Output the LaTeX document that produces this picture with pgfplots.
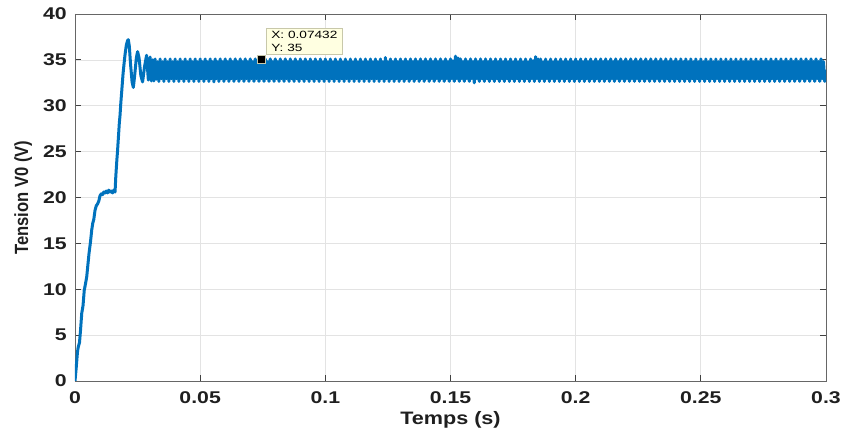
\documentclass[border=0pt]{standalone}
\usepackage{pgfplots}
\pgfplotsset{compat=1.18}
\usepackage{fontspec}
\setmainfont{Liberation Sans}
\newfontfamily\tickfont[FakeStretch=1.25]{Liberation Sans}
\newfontfamily\labfont[FakeStretch=1.2]{Liberation Sans}
\newfontfamily\tipfont[FakeStretch=1.3]{Liberation Sans}
\definecolor{vblue}{RGB}{0,114,189}
\definecolor{tipbg}{RGB}{255,255,225}
\definecolor{tipedge}{RGB}{200,200,170}

\begin{document}
\begin{tikzpicture}
\path[use as bounding box] (-75bp,-51bp) rectangle (766bp,381bp);
\begin{axis}[
  at={(0,0)}, anchor=south west,
  scale only axis, width=751bp, height=367bp,
  xmin=0, xmax=0.3, ymin=0, ymax=40,
  xtick={0,0.05,0.1,0.15,0.2,0.25,0.3},
  xticklabels={0,0.05,0.1,0.15,0.2,0.25,0.3},
  ytick={0,5,10,15,20,25,30,35,40},
  yticklabels={0,5,10,15,20,25,30,35,40},
  /pgf/number format/assume math mode=true,
  grid=major,
  major grid style={draw=black!11, line width=0.7bp},
  tick align=inside, major tick length=6bp,
  tick style={draw=black!75, line width=0.8bp},
  axis line style={draw=black!60, line width=0.9bp},
  ticklabel style={font=\tickfont\bfseries\fontsize{17bp}{18bp}\selectfont, text=black!88},
  xticklabel style={anchor=base, yshift=-22bp},
  yticklabel style={anchor=east, inner sep=0pt, xshift=-8bp},
  xlabel={Temps (s)},
  xlabel style={at={(axis description cs:0.5,0)}, anchor=base, yshift=-43bp,
    font=\labfont\bfseries\fontsize{18bp}{20bp}\selectfont, text=black!88},
  ylabel={\scalebox{1}[1.15]{Tension V0 (V)}},
  ylabel style={at={(axis description cs:-0.06258,0.5)}, anchor=base,
    font=\bfseries\fontsize{16.6bp}{18bp}\selectfont, text=black!88},
]
% output voltage: start-up transient
\addplot[vblue, line width=3bp, line join=round, line cap=round] coordinates {
(0,0)(0.0005,1.5)(0.0010,3.2)(0.0013,3.7)(0.0018,4.2)(0.0022,5.5)(0.0027,7.4)(0.0032,8.2)
(0.0037,9.9)(0.0042,10.6)(0.0047,11.4)(0.0052,12.8)(0.0056,13.9)(0.0062,15.2)(0.0067,16.5)
(0.0071,17.2)(0.0075,17.6)(0.0080,18.6)(0.0085,19.1)(0.0090,19.3)(0.0095,19.6)(0.0100,20.2)
(0.0105,20.4)(0.0110,20.3)(0.0115,20.6)(0.0120,20.5)(0.0125,20.7)(0.0130,20.5)(0.0135,20.8)
(0.0140,20.6)(0.0145,20.7)(0.0150,20.5)(0.0155,20.8)(0.0160,20.6)(0.0163,22.3)(0.0167,24.0)
(0.0170,25.1)(0.0174,26.8)(0.0177,28.1)(0.0180,29.0)(0.0183,30.3)(0.0187,31.7)(0.0192,33.5)
(0.0196,34.6)(0.0200,35.6)(0.0205,36.6)(0.0210,37.1)(0.0213,37.2)(0.0217,36.5)(0.0222,34.5)
(0.0228,32.6)(0.0233,32.0)(0.0238,33.2)(0.0245,35.2)(0.0250,35.9)(0.0256,35.2)(0.0263,33.3)
(0.0270,32.6)(0.0278,34.3)(0.0286,35.5)(0.0293,32.8)
% steady-state ripple
(0.0300,35.3)(0.0305,32.7)(0.0310,35.0)(0.0315,32.7)(0.0320,35.1)(0.0325,32.9)(0.0330,34.8)(0.0335,32.65)
(0.0340,35.1)(0.0345,32.95)(0.0350,34.8)(0.0355,32.65)(0.0360,35.1)(0.0365,32.95)(0.0370,34.8)(0.0375,32.65)
(0.0380,35.1)(0.0385,32.95)(0.0390,34.8)(0.0395,32.65)(0.0400,35.1)(0.0405,32.95)(0.0410,34.8)(0.0415,32.65)
(0.0420,35.1)(0.0425,32.95)(0.0430,34.8)(0.0435,32.65)(0.0440,35.1)(0.0445,32.95)(0.0450,34.8)(0.0455,32.65)
(0.0460,35.1)(0.0465,32.95)(0.0470,34.8)(0.0475,32.65)(0.0480,35.1)(0.0485,32.95)(0.0490,34.8)(0.0495,32.65)
(0.0500,35.1)(0.0505,32.95)(0.0510,34.8)(0.0515,32.65)(0.0520,35.1)(0.0525,32.95)(0.0530,34.8)(0.0535,32.65)
(0.0540,35.1)(0.0545,32.95)(0.0550,34.8)(0.0555,32.6)(0.0560,35.1)(0.0565,32.95)(0.0570,34.8)(0.0575,32.65)
(0.0580,35.1)(0.0585,32.95)(0.0590,34.8)(0.0595,32.65)(0.0600,35.1)(0.0605,32.95)(0.0610,34.8)(0.0615,32.65)
(0.0620,35.1)(0.0625,32.95)(0.0630,34.8)(0.0635,32.65)(0.0640,35.1)(0.0645,32.95)(0.0650,34.8)(0.0655,32.65)
(0.0660,35.1)(0.0665,32.95)(0.0670,34.8)(0.0675,32.65)(0.0680,35.1)(0.0685,32.95)(0.0690,34.8)(0.0695,32.65)
(0.0700,35.1)(0.0705,32.95)(0.0710,34.8)(0.0715,32.65)(0.0720,35.1)(0.0725,32.95)(0.0730,34.8)(0.0735,32.65)
(0.0740,35.1)(0.0745,32.95)(0.0750,34.8)(0.0755,32.65)(0.0760,35.1)(0.0765,32.95)(0.0770,34.8)(0.0775,32.65)
(0.0780,35.1)(0.0785,32.95)(0.0790,34.8)(0.0795,32.65)(0.0800,35.1)(0.0805,32.95)(0.0810,34.8)(0.0815,32.65)
(0.0820,35.1)(0.0825,32.95)(0.0830,34.8)(0.0835,32.65)(0.0840,35.1)(0.0845,32.95)(0.0850,34.8)(0.0855,32.65)
(0.0860,35.1)(0.0865,32.95)(0.0870,34.8)(0.0875,32.65)(0.0880,35.1)(0.0885,32.95)(0.0890,34.8)(0.0895,32.65)
(0.0900,35.1)(0.0905,32.95)(0.0910,34.8)(0.0915,32.65)(0.0920,35.1)(0.0925,32.95)(0.0930,34.8)(0.0935,32.65)
(0.0940,35.1)(0.0945,32.95)(0.0950,34.8)(0.0955,32.65)(0.0960,35.1)(0.0965,32.95)(0.0970,34.8)(0.0975,32.65)
(0.0980,35.1)(0.0985,32.95)(0.0990,34.8)(0.0995,32.65)(0.1000,35.1)(0.1005,32.95)(0.1010,34.8)(0.1015,32.65)
(0.1020,35.1)(0.1025,32.95)(0.1030,34.8)(0.1035,32.65)(0.1040,35.1)(0.1045,32.95)(0.1050,34.8)(0.1055,32.65)
(0.1060,35.1)(0.1065,32.95)(0.1070,34.8)(0.1075,32.65)(0.1080,35.1)(0.1085,32.95)(0.1090,34.8)(0.1095,32.65)
(0.1100,35.1)(0.1105,32.95)(0.1110,34.8)(0.1115,32.65)(0.1120,35.1)(0.1125,32.95)(0.1130,34.8)(0.1135,32.65)
(0.1140,35.1)(0.1145,32.95)(0.1150,34.8)(0.1155,32.65)(0.1160,35.1)(0.1165,32.95)(0.1170,34.8)(0.1175,32.65)
(0.1180,35.1)(0.1185,32.95)(0.1190,34.8)(0.1195,32.65)(0.1200,35.1)(0.1205,32.95)(0.1210,34.8)(0.1215,32.65)
(0.1220,35.1)(0.1225,32.95)(0.1230,34.8)(0.1235,32.65)(0.1240,35.25)(0.1245,32.95)(0.1250,34.8)(0.1255,32.65)
(0.1260,35.1)(0.1265,32.95)(0.1270,34.8)(0.1275,32.65)(0.1280,35.1)(0.1285,32.95)(0.1290,34.8)(0.1295,32.65)
(0.1300,35.1)(0.1305,32.95)(0.1310,34.8)(0.1315,32.65)(0.1320,35.1)(0.1325,32.95)(0.1330,34.8)(0.1335,32.65)
(0.1340,35.1)(0.1345,32.95)(0.1350,34.8)(0.1355,32.65)(0.1360,35.1)(0.1365,32.95)(0.1370,34.8)(0.1375,32.65)
(0.1380,35.1)(0.1385,32.95)(0.1390,34.8)(0.1395,32.65)(0.1400,35.1)(0.1405,32.95)(0.1410,34.8)(0.1415,32.65)
(0.1420,35.1)(0.1425,32.95)(0.1430,34.8)(0.1435,32.65)(0.1440,35.1)(0.1445,32.95)(0.1450,34.8)(0.1455,32.65)
(0.1460,35.1)(0.1465,32.95)(0.1470,34.8)(0.1475,32.65)(0.1480,35.1)(0.1485,32.95)(0.1490,34.8)(0.1495,32.65)
(0.1500,35.1)(0.1505,32.95)(0.1510,34.9)(0.1515,32.65)(0.1520,35.4)(0.1525,32.95)(0.1530,35.2)(0.1535,32.65)
(0.1540,35.1)(0.1545,32.95)(0.1550,34.8)(0.1555,32.65)(0.1560,35.1)(0.1565,32.95)(0.1570,34.8)(0.1575,32.65)
(0.1580,35.1)(0.1585,32.95)(0.1590,34.8)(0.1595,32.5)(0.1600,35.1)(0.1605,32.95)(0.1610,34.8)(0.1615,32.65)
(0.1620,35.1)(0.1625,32.95)(0.1630,34.8)(0.1635,32.65)(0.1640,35.1)(0.1645,32.95)(0.1650,34.8)(0.1655,32.65)
(0.1660,35.1)(0.1665,32.95)(0.1670,34.8)(0.1675,32.65)(0.1680,35.1)(0.1685,32.95)(0.1690,34.8)(0.1695,32.65)
(0.1700,35.1)(0.1705,32.95)(0.1710,34.8)(0.1715,32.65)(0.1720,35.1)(0.1725,32.95)(0.1730,34.8)(0.1735,32.65)
(0.1740,35.1)(0.1745,32.95)(0.1750,34.8)(0.1755,32.65)(0.1760,35.1)(0.1765,32.95)(0.1770,34.8)(0.1775,32.65)
(0.1780,35.1)(0.1785,32.95)(0.1790,34.8)(0.1795,32.65)(0.1800,35.1)(0.1805,32.95)(0.1810,34.8)(0.1815,32.65)
(0.1820,35.1)(0.1825,32.95)(0.1830,34.9)(0.1835,32.65)(0.1840,35.35)(0.1845,32.95)(0.1850,35.1)(0.1855,32.65)
(0.1860,35.1)(0.1865,32.95)(0.1870,34.8)(0.1875,32.65)(0.1880,35.1)(0.1885,32.95)(0.1890,34.8)(0.1895,32.65)
(0.1900,35.1)(0.1905,32.95)(0.1910,34.8)(0.1915,32.65)(0.1920,35.1)(0.1925,32.95)(0.1930,34.8)(0.1935,32.65)
(0.1940,35.1)(0.1945,32.95)(0.1950,34.8)(0.1955,32.65)(0.1960,35.1)(0.1965,32.95)(0.1970,34.8)(0.1975,32.65)
(0.1980,35.1)(0.1985,32.95)(0.1990,34.8)(0.1995,32.65)(0.2000,35.1)(0.2005,32.95)(0.2010,34.8)(0.2015,32.65)
(0.2020,35.1)(0.2025,32.95)(0.2030,34.8)(0.2035,32.65)(0.2040,35.1)(0.2045,32.95)(0.2050,34.8)(0.2055,32.65)
(0.2060,35.1)(0.2065,32.95)(0.2070,34.8)(0.2075,32.65)(0.2080,35.1)(0.2085,32.95)(0.2090,34.8)(0.2095,32.65)
(0.2100,35.1)(0.2105,32.95)(0.2110,34.8)(0.2115,32.65)(0.2120,35.1)(0.2125,32.95)(0.2130,34.8)(0.2135,32.65)
(0.2140,35.1)(0.2145,32.95)(0.2150,34.8)(0.2155,32.65)(0.2160,35.1)(0.2165,32.95)(0.2170,34.8)(0.2175,32.65)
(0.2180,35.1)(0.2185,32.95)(0.2190,34.8)(0.2195,32.65)(0.2200,35.1)(0.2205,32.95)(0.2210,34.8)(0.2215,32.65)
(0.2220,35.1)(0.2225,32.95)(0.2230,34.8)(0.2235,32.65)(0.2240,35.1)(0.2245,32.95)(0.2250,34.8)(0.2255,32.65)
(0.2260,35.1)(0.2265,32.95)(0.2270,34.8)(0.2275,32.65)(0.2280,35.1)(0.2285,32.95)(0.2290,34.8)(0.2295,32.65)
(0.2300,35.1)(0.2305,32.95)(0.2310,34.8)(0.2315,32.65)(0.2320,35.1)(0.2325,32.95)(0.2330,34.8)(0.2335,32.65)
(0.2340,35.1)(0.2345,32.95)(0.2350,34.8)(0.2355,32.65)(0.2360,35.1)(0.2365,32.95)(0.2370,34.8)(0.2375,32.65)
(0.2380,35.1)(0.2385,32.95)(0.2390,34.8)(0.2395,32.65)(0.2400,35.1)(0.2405,32.95)(0.2410,34.8)(0.2415,32.65)
(0.2420,35.1)(0.2425,32.95)(0.2430,34.8)(0.2435,32.65)(0.2440,35.1)(0.2445,32.95)(0.2450,34.8)(0.2455,32.65)
(0.2460,35.1)(0.2465,32.95)(0.2470,34.8)(0.2475,32.65)(0.2480,35.1)(0.2485,32.95)(0.2490,34.8)(0.2495,32.65)
(0.2500,35.1)(0.2505,32.95)(0.2510,34.8)(0.2515,32.65)(0.2520,35.1)(0.2525,32.95)(0.2530,34.8)(0.2535,32.65)
(0.2540,35.1)(0.2545,32.95)(0.2550,34.8)(0.2555,32.65)(0.2560,35.1)(0.2565,32.95)(0.2570,34.8)(0.2575,32.65)
(0.2580,35.1)(0.2585,32.95)(0.2590,34.8)(0.2595,32.65)(0.2600,35.1)(0.2605,32.95)(0.2610,34.8)(0.2615,32.65)
(0.2620,35.1)(0.2625,32.95)(0.2630,34.8)(0.2635,32.65)(0.2640,35.1)(0.2645,32.95)(0.2650,34.8)(0.2655,32.65)
(0.2660,35.1)(0.2665,32.95)(0.2670,34.8)(0.2675,32.65)(0.2680,35.1)(0.2685,32.95)(0.2690,34.8)(0.2695,32.65)
(0.2700,35.1)(0.2705,32.95)(0.2710,34.8)(0.2715,32.65)(0.2720,35.1)(0.2725,32.95)(0.2730,34.8)(0.2735,32.65)
(0.2740,35.1)(0.2745,32.95)(0.2750,34.8)(0.2755,32.65)(0.2760,35.1)(0.2765,32.95)(0.2770,34.8)(0.2775,32.65)
(0.2780,35.1)(0.2785,32.95)(0.2790,34.8)(0.2795,32.65)(0.2800,35.1)(0.2805,32.95)(0.2810,34.8)(0.2815,32.65)
(0.2820,35.1)(0.2825,32.95)(0.2830,34.8)(0.2835,32.65)(0.2840,35.1)(0.2845,32.95)(0.2850,34.8)(0.2855,32.65)
(0.2860,35.1)(0.2865,32.95)(0.2870,34.8)(0.2875,32.65)(0.2880,35.1)(0.2885,32.95)(0.2890,34.8)(0.2895,32.65)
(0.2900,35.1)(0.2905,32.95)(0.2910,34.8)(0.2915,32.65)(0.2920,35.1)(0.2925,32.95)(0.2930,34.8)(0.2935,32.65)
(0.2940,35.1)(0.2945,32.95)(0.2950,34.8)(0.2955,32.65)(0.2960,35.1)(0.2965,32.95)(0.2970,34.8)(0.2975,32.65)
(0.2980,35.1)(0.2985,32.95)(0.2990,34.8)(0.2995,32.65)(0.3000,33.8)
};
% data tip
\addplot[only marks, mark=square*, mark size=4bp,
  mark options={fill=black, draw=tipedge, line width=0.8bp}] coordinates {(0.07432,35)};
\node[anchor=south west, xshift=5bp, yshift=5bp, fill=tipbg, draw=tipedge, line width=0.6bp,
  align=left, inner xsep=5bp, inner ysep=3bp,
  font=\tipfont\fontsize{10.5bp}{12.5bp}\selectfont]
  at (axis cs:0.07432,35) {X: 0.07432\\Y: 35};
\end{axis}
\end{tikzpicture}
\end{document}
